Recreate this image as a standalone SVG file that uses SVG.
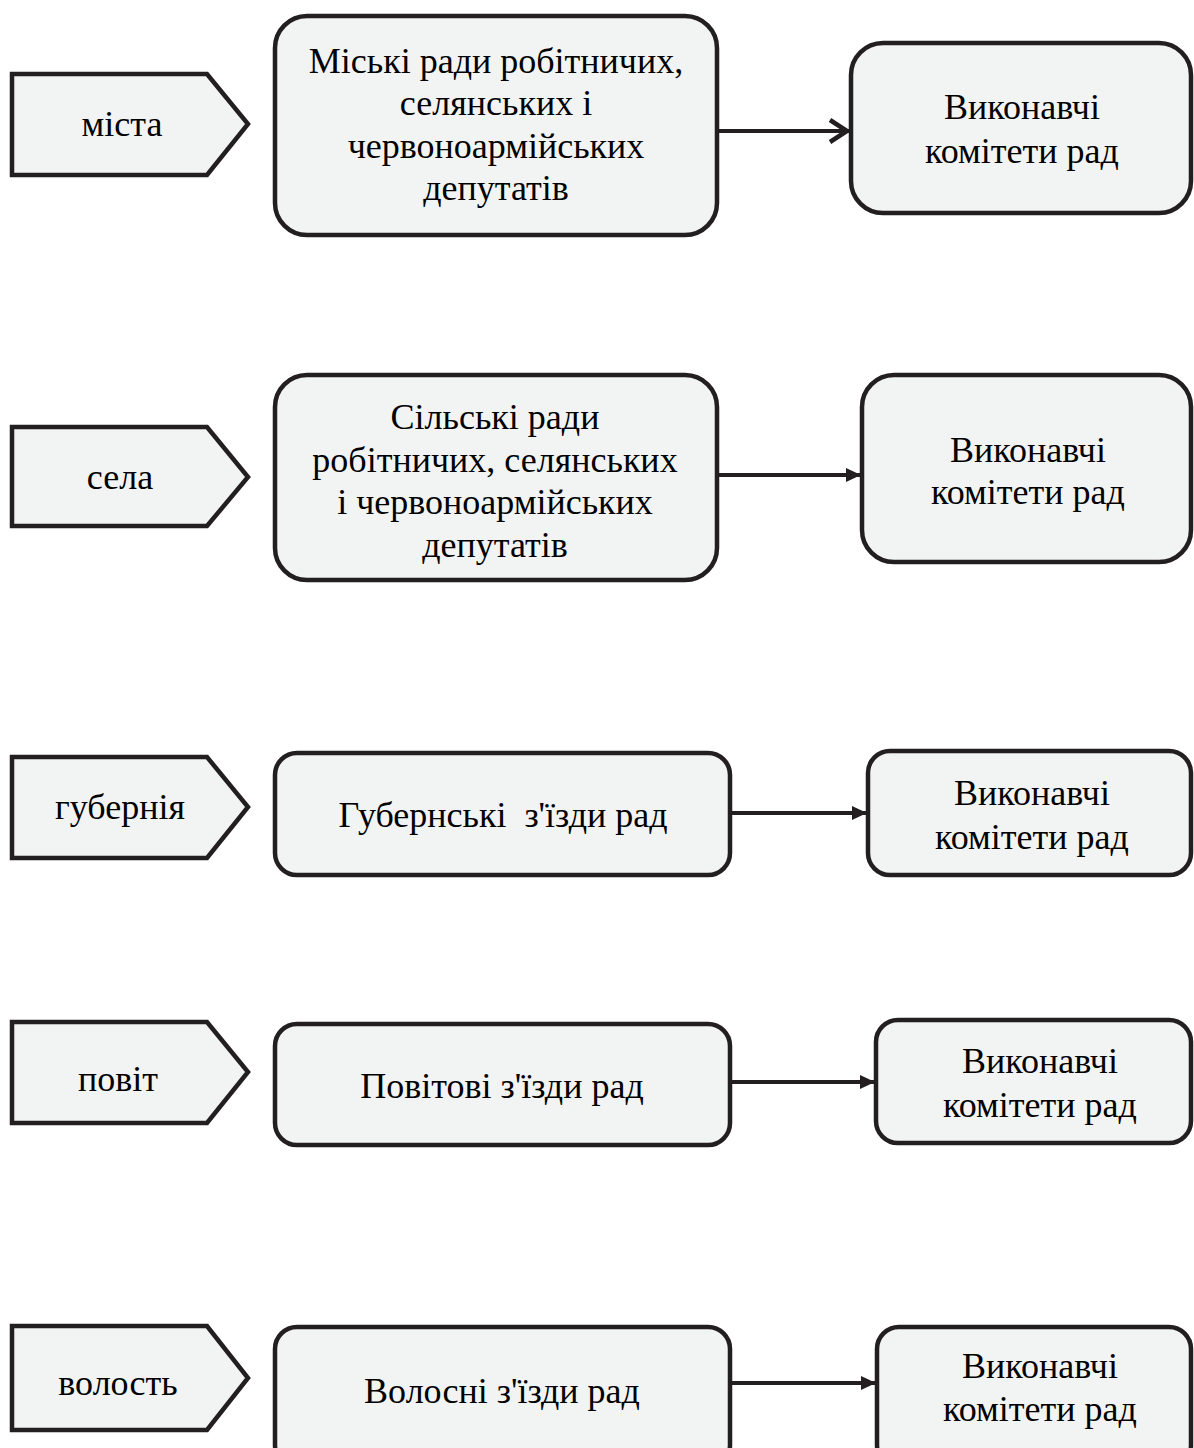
<svg xmlns="http://www.w3.org/2000/svg" width="1194" height="1448" viewBox="0 0 1194 1448">
<style>
.s{fill:#f2f3f3;stroke:#231f20;stroke-width:4.5;stroke-linejoin:miter}
.t{font-family:"Liberation Serif","Times New Roman",serif;font-size:36px;fill:#000;text-anchor:middle}
.c{stroke:#231f20;stroke-width:4;fill:none}
</style>
<defs>
<marker id="tri" viewBox="0 0 15 14" refX="15" refY="7" markerWidth="15" markerHeight="14" markerUnits="userSpaceOnUse" orient="auto"><path d="M0,0 L15,7 L0,14 Z" fill="#231f20"/></marker>
<marker id="open" viewBox="0 0 22 26" refX="21" refY="13" markerWidth="22" markerHeight="26" markerUnits="userSpaceOnUse" orient="auto"><path d="M2,2 L19,13 L2,24" fill="none" stroke="#231f20" stroke-width="4.5"/></marker>
</defs>
<rect width="1194" height="1448" fill="#fff"/>
<g id="connectors">
<line class="c" x1="717" y1="131" x2="849" y2="131" marker-end="url(#open)"/>
<line class="c" x1="717" y1="475" x2="861" y2="475" marker-end="url(#tri)"/>
<line class="c" x1="730" y1="813" x2="867" y2="813" marker-end="url(#tri)"/>
<line class="c" x1="730" y1="1082" x2="875" y2="1082" marker-end="url(#tri)"/>
<line class="c" x1="730" y1="1383" x2="876" y2="1383" marker-end="url(#tri)"/>
</g>
<g id="p1"><path class="s" d="M12,74 H207 L248,124 L207,175 H12 Z"/><text class="t" x="122" y="136">міста</text></g>
<g id="b1"><rect class="s" x="275" y="16" width="442" height="219" rx="32"/>
<text class="t" x="496" y="73">Міські ради робітничих,</text>
<text class="t" x="496" y="115">селянських і</text>
<text class="t" x="496" y="158">червоноармійських</text>
<text class="t" x="496" y="200">депутатів</text></g>
<g id="r1"><rect class="s" x="851" y="43" width="340" height="170" rx="32"/>
<text class="t" x="1022" y="119">Виконавчі</text><text class="t" x="1022" y="163">комітети рад</text></g>

<g id="p2"><path class="s" d="M12,427 H207 L248,477 L207,526 H12 Z"/><text class="t" x="120" y="489">села</text></g>
<g id="b2"><rect class="s" x="275" y="375" width="442" height="205" rx="32"/>
<text class="t" x="495" y="429">Сільські ради</text>
<text class="t" x="495" y="472">робітничих, селянських</text>
<text class="t" x="495" y="514">і червоноармійських</text>
<text class="t" x="495" y="557">депутатів</text></g>
<g id="r2"><rect class="s" x="862" y="375" width="329" height="187" rx="32"/>
<text class="t" x="1028" y="462">Виконавчі</text><text class="t" x="1028" y="504">комітети рад</text></g>

<g id="p3"><path class="s" d="M12,757 H207 L248,807 L207,858 H12 Z"/><text class="t" x="120" y="819">губернія</text></g>
<g id="b3"><rect class="s" x="275" y="753" width="455" height="122" rx="22"/>
<text class="t" x="503" y="827" xml:space="preserve">Губернські  з'їзди рад</text></g>
<g id="r3"><rect class="s" x="868" y="751" width="323" height="124" rx="22"/>
<text class="t" x="1032" y="805">Виконавчі</text><text class="t" x="1032" y="849">комітети рад</text></g>

<g id="p4"><path class="s" d="M12,1022 H207 L248,1072 L207,1123 H12 Z"/><text class="t" x="118" y="1091">повіт</text></g>
<g id="b4"><rect class="s" x="275" y="1024" width="455" height="121" rx="22"/>
<text class="t" x="502" y="1098">Повітові з'їзди рад</text></g>
<g id="r4"><rect class="s" x="876" y="1020" width="315" height="123" rx="22"/>
<text class="t" x="1040" y="1073">Виконавчі</text><text class="t" x="1040" y="1117">комітети рад</text></g>

<g id="p5"><path class="s" d="M12,1326 H207 L248,1378 L207,1430 H12 Z"/><text class="t" x="118" y="1395">волость</text></g>
<g id="b5"><rect class="s" x="275" y="1327" width="455" height="140" rx="22"/>
<text class="t" x="502" y="1403">Волосні з'їзди рад</text></g>
<g id="r5"><rect class="s" x="877" y="1327" width="314" height="140" rx="22"/>
<text class="t" x="1040" y="1378">Виконавчі</text><text class="t" x="1040" y="1421">комітети рад</text></g>
</svg>
